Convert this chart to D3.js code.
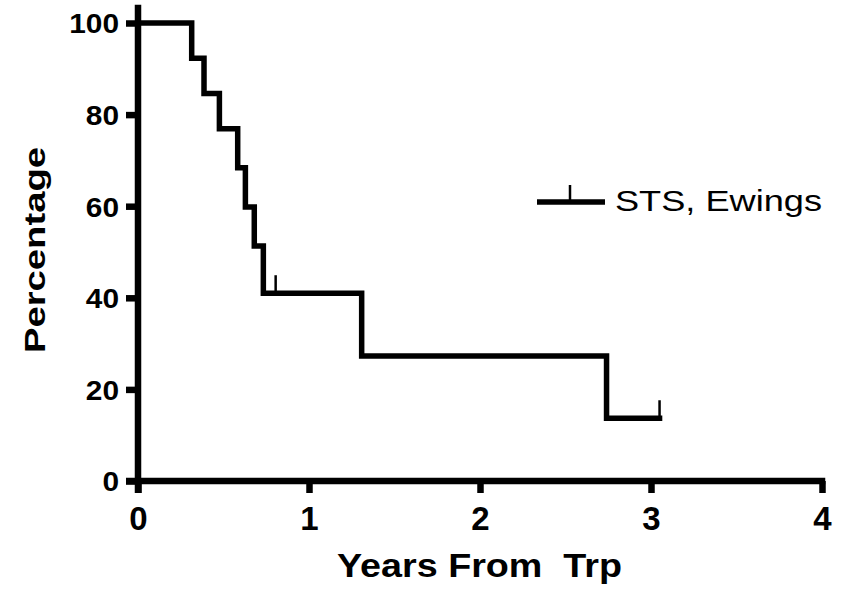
<!DOCTYPE html>
<html>
<head>
<meta charset="utf-8">
<script src="https://cdn.jsdelivr.net/npm/d3@7"></script>
<style>
  html, body { margin: 0; padding: 0; background: #fff; }
  svg { display: block; }
</style>
</head>
<body>
<svg id="chart" width="850" height="590"></svg>
<script>
// Kaplan-Meier survival curve: STS, Ewings
const eventTimes = [0, 0.314, 0.386, 0.476, 0.583, 0.628, 0.680, 0.733, 1.308, 2.740];
const survival   = [100, 92.3, 84.6, 76.9, 68.4, 59.8, 51.3, 41.0, 27.3, 13.7];
const lastFollowUp = 3.05;
const censorTimes = [0.805, 3.05];
const xTicks = [0, 1, 2, 3, 4];
const yTicks = [0, 20, 40, 60, 80, 100];
const seriesName = "STS, Ewings";
const xTitle = "Years From  Trp";
const yTitle = "Percentage";

const svg = d3.select("#chart");
const x = d3.scaleLinear().domain([0, 4]).range([138, 822]);
const y = d3.scaleLinear().domain([0, 100]).range([481, 23]);

const axisW = 6.5;
const lineW = 5.5;
const font = "'Liberation Sans', Arial, sans-serif";

// survival value in effect at time t
function survAt(t) {
  let s = survival[0];
  eventTimes.forEach((et, i) => { if (et <= t) s = survival[i]; });
  return s;
}

// Axes
const yAxis = d3.axisLeft(y).tickValues(yTicks).tickFormat(d3.format("d")).tickSize(12).tickSizeOuter(0);
const xAxis = d3.axisBottom(x).tickValues(xTicks).tickFormat(d3.format("d")).tickSize(12).tickSizeOuter(0);

const gy = svg.append("g").attr("transform", `translate(${x(0)},0)`).call(yAxis);
gy.select(".domain").remove();
gy.selectAll(".tick line").attr("stroke", "#000").attr("stroke-width", axisW);
gy.selectAll(".tick text")
  .attr("fill", "#000")
  .attr("font-family", font)
  .attr("font-weight", "bold")
  .attr("font-size", 27.5)
  .attr("dy", "0.36em")
  .attr("x", -19)
  .attr("textLength", d => String(d).length * 16.6)
  .attr("lengthAdjust", "spacingAndGlyphs");

const gx = svg.append("g").attr("transform", `translate(0,${y(0)})`).call(xAxis);
gx.select(".domain").remove();
gx.selectAll(".tick line").attr("stroke", "#000").attr("stroke-width", axisW);
gx.selectAll(".tick text")
  .attr("fill", "#000")
  .attr("font-family", font)
  .attr("font-weight", "bold")
  .attr("font-size", 33)
  .attr("dy", null)
  .attr("y", 49);

// axis lines
svg.append("line")
  .attr("x1", x(0)).attr("x2", x(0))
  .attr("y1", y(104)).attr("y2", y(0) + 12)
  .attr("stroke", "#000").attr("stroke-width", axisW);
svg.append("line")
  .attr("x1", x(0) - 12).attr("x2", x(4) + axisW / 2)
  .attr("y1", y(0)).attr("y2", y(0))
  .attr("stroke", "#000").attr("stroke-width", axisW);

// Survival curve
const pts = eventTimes.map((t, i) => [t, survival[i]]);
pts.push([lastFollowUp, survival[survival.length - 1]]);
const line = d3.line().x(d => x(d[0])).y(d => y(d[1])).curve(d3.curveStepAfter);
svg.append("path")
  .datum(pts)
  .attr("d", line)
  .attr("fill", "none")
  .attr("stroke", "#000")
  .attr("stroke-width", lineW)
  .attr("stroke-linejoin", "miter")
  .attr("stroke-linecap", "square");

// Censor marks
svg.selectAll(".censor")
  .data(censorTimes)
  .enter().append("line")
  .attr("class", "censor")
  .attr("x1", d => x(d)).attr("x2", d => x(d))
  .attr("y1", d => y(survAt(d))).attr("y2", d => y(survAt(d)) - 18)
  .attr("stroke", "#000").attr("stroke-width", 2.5);

// Legend
const lg = svg.append("g");
lg.append("line")
  .attr("x1", 537).attr("x2", 605).attr("y1", 202).attr("y2", 202)
  .attr("stroke", "#000").attr("stroke-width", lineW);
lg.append("line")
  .attr("x1", 570).attr("x2", 570).attr("y1", 202).attr("y2", 185)
  .attr("stroke", "#000").attr("stroke-width", 2.5);
lg.append("text")
  .attr("x", 615).attr("y", 211)
  .attr("font-family", font)
  .attr("font-size", 30)
  .attr("fill", "#000")
  .attr("textLength", 207)
  .attr("lengthAdjust", "spacingAndGlyphs")
  .text(seriesName);

// Axis titles
svg.append("text")
  .attr("x", 479.5).attr("y", 577)
  .attr("text-anchor", "middle")
  .attr("font-family", font)
  .attr("font-weight", "bold")
  .attr("font-size", 33)
  .attr("fill", "#000")
  .style("white-space", "pre")
  .attr("textLength", 285)
  .attr("lengthAdjust", "spacingAndGlyphs")
  .text(xTitle);

svg.append("text")
  .attr("transform", "translate(45,250) rotate(-90)")
  .attr("text-anchor", "middle")
  .attr("font-family", font)
  .attr("font-weight", "bold")
  .attr("font-size", 29)
  .attr("fill", "#000")
  .attr("textLength", 206)
  .attr("lengthAdjust", "spacingAndGlyphs")
  .text(yTitle);
</script>
</body>
</html>
